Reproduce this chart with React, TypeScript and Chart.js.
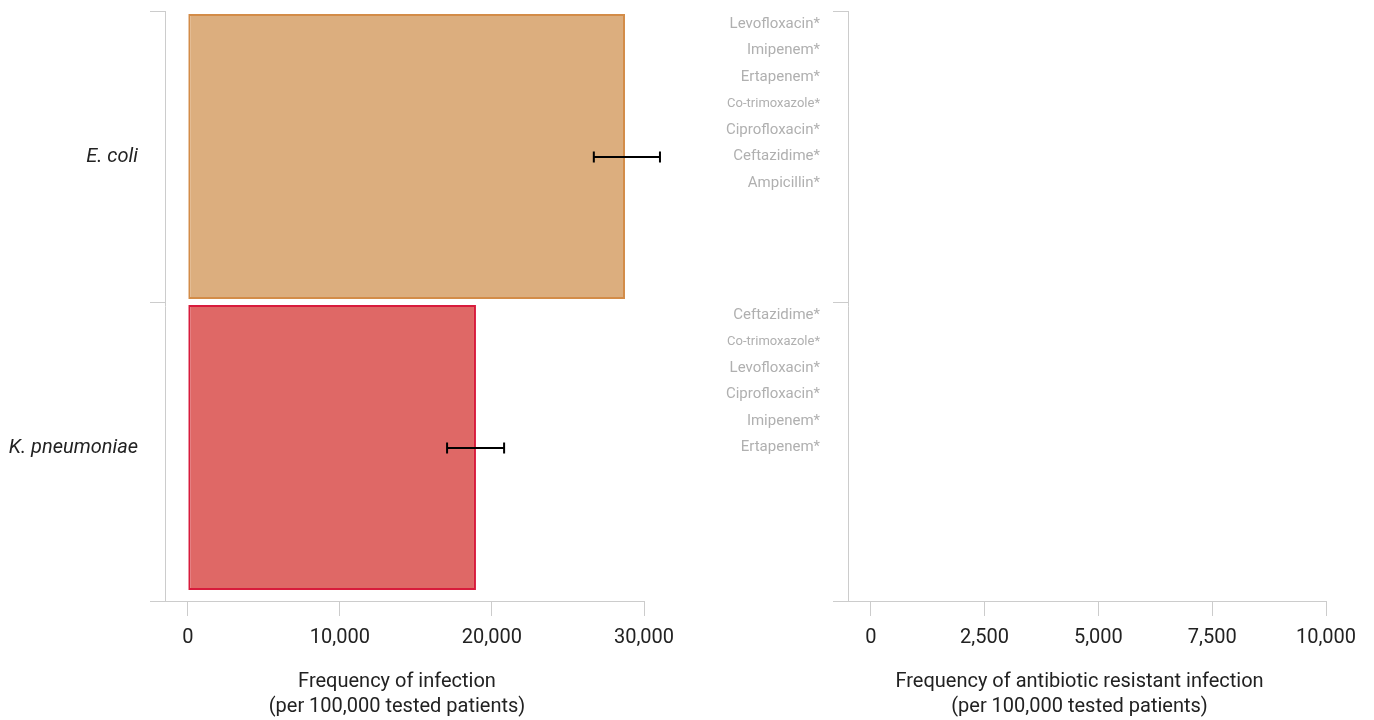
import React, { useEffect, useRef } from 'react';
import { Chart, registerables } from 'chart.js';

Chart.register(...registerables);

const FONT = 'Roboto';

// ---- Data ----
const organisms = ['E. coli', 'K. pneumoniae'];
const infectionFreq = [28750, 18950];
const infectionLow = [26700, 17050];
const infectionHigh = [31050, 20800];
const barFill = ['#DCAE7E', '#DF6866'];
const barBorder = ['#D38C48', '#D81B3C'];
const leftTicks = [0, 10000, 20000, 30000];
const rightTicks = [0, 2500, 5000, 7500, 10000];
const ecoliAntibiotics = [
  'Levofloxacin*',
  'Imipenem*',
  'Ertapenem*',
  'Co-trimoxazole*',
  'Ciprofloxacin*',
  'Ceftazidime*',
  'Ampicillin*',
];
const kpneuAntibiotics = [
  'Ceftazidime*',
  'Co-trimoxazole*',
  'Levofloxacin*',
  'Ciprofloxacin*',
  'Imipenem*',
  'Ertapenem*',
];
const condensedLabels = ['Co-trimoxazole*'];
const slotsPerGroup = 11;
const resistantFreq: (number | null)[] = [];
const leftTitle = ['Frequency of infection', '(per 100,000 tested patients)'];
const rightTitle = ['Frequency of antibiotic resistant infection', '(per 100,000 tested patients)'];

// fraction of the plot height used by the category bands (the x axis sits a little below them)
const BAND_FRACTION = 582 / 590;

const padGroup = (arr: string[]) => {
  const out = arr.slice();
  while (out.length < slotsPerGroup) out.push('');
  return out;
};
const antibioticLabels = [...padGroup(ecoliAntibiotics), ...padGroup(kpneuAntibiotics)];

const fmt = (v: any) => Number(v).toLocaleString('en-US');

const errorBarPlugin = {
  id: 'errorBars',
  afterDatasetsDraw(chart: any) {
    const { ctx, scales } = chart;
    const x = scales.x;
    const y = scales.y;
    ctx.save();
    ctx.strokeStyle = '#000000';
    ctx.lineWidth = 2;
    infectionLow.forEach((lo, i) => {
      const yc = Math.round(y.getPixelForValue(i));
      const x0 = x.getPixelForValue(lo);
      const x1 = x.getPixelForValue(infectionHigh[i]);
      ctx.beginPath();
      ctx.moveTo(x0, yc);
      ctx.lineTo(x1, yc);
      ctx.moveTo(x0, yc - 5.5);
      ctx.lineTo(x0, yc + 5.5);
      ctx.moveTo(x1, yc - 5.5);
      ctx.lineTo(x1, yc + 5.5);
      ctx.stroke();
    });
    ctx.restore();
  },
};

const axisTitlePlugin = {
  id: 'axisTitle',
  afterDraw(chart: any, _args: any, opts: any) {
    const { ctx, chartArea } = chart;
    const lines: string[] = opts.lines || [];
    const cx = (chartArea.left - 15 + chartArea.right) / 2;
    ctx.save();
    ctx.fillStyle = '#222222';
    ctx.font = `20px ${FONT}`;
    ctx.textAlign = 'center';
    ctx.textBaseline = 'middle';
    lines.forEach((t, i) => {
      ctx.fillText(t, cx, chartArea.bottom + 81 + i * 25);
    });
    // outer tick of the y axis at the corner, continuing the x axis line
    const yb = Math.round(chartArea.bottom) + 0.5;
    ctx.strokeStyle = '#cccccc';
    ctx.lineWidth = 1;
    ctx.beginPath();
    ctx.moveTo(chartArea.left - 15, yb);
    ctx.lineTo(chartArea.left, yb);
    ctx.stroke();
    ctx.restore();
  },
};

function makeXScale(min: number, max: number, ticks: number[]) {
  return {
    type: 'linear',
    min,
    max,
    afterBuildTicks: (ax: any) => {
      ax.ticks = ticks.map((v) => ({ value: v }));
    },
    afterFit: (ax: any) => {
      ax.height = 119;
      ax.paddingLeft = 0;
      ax.paddingRight = 0;
    },
    grid: { drawOnChartArea: false, drawTicks: true, tickLength: 15, color: '#cccccc', lineWidth: 1 },
    border: { display: true, color: '#cccccc', width: 1 },
    ticks: {
      padding: 10,
      color: '#222222',
      font: { family: FONT, size: 20 },
      maxRotation: 0,
      autoSkip: false,
      callback: fmt,
    },
    title: { display: false },
  };
}

function makeYScale(width: number, every: number, tickOpts: any) {
  return {
    type: 'category',
    afterBuildTicks: (ax: any) => {
      ax._valueRange = ax._valueRange / BAND_FRACTION;
    },
    afterFit: (ax: any) => {
      ax.width = width;
      ax.paddingTop = 0;
      ax.paddingBottom = 0;
    },
    grid: {
      offset: true,
      drawOnChartArea: false,
      drawTicks: true,
      tickLength: 15,
      color: (c: any) => (c.type === 'tick' && c.index % every === 0 ? '#cccccc' : 'rgba(0,0,0,0)'),
    },
    border: { display: true, color: '#cccccc', width: 1 },
    ticks: tickOpts,
  };
}

const LeftChart: React.FC = () => {
  const ref = useRef<HTMLCanvasElement>(null);
  useEffect(() => {
    if (!ref.current) return;
    const chart = new Chart(ref.current, {
      type: 'bar',
      data: {
        labels: organisms,
        datasets: [
          {
            data: infectionFreq,
            backgroundColor: barFill,
            borderColor: barBorder,
            borderWidth: 2,
            borderSkipped: false,
            barPercentage: 0.98,
            categoryPercentage: 1,
          },
        ],
      },
      options: {
        indexAxis: 'y',
        responsive: false,
        animation: false,
        layout: { padding: { left: 0, right: 46, top: 11, bottom: 0 } },
        plugins: {
          legend: { display: false },
          tooltip: { enabled: false },
          axisTitle: { lines: leftTitle },
        } as any,
        scales: {
          x: makeXScale(-1500, 30000, leftTicks) as any,
          y: makeYScale(165, 1, {
            padding: 12,
            color: '#222222',
            font: { family: FONT, size: 20, style: 'italic' },
          }) as any,
        },
      },
      plugins: [errorBarPlugin, axisTitlePlugin],
    });
    return () => chart.destroy();
  }, []);
  return <canvas ref={ref} width={690} height={720} style={{ display: 'block' }} />;
};

const RightChart: React.FC = () => {
  const ref = useRef<HTMLCanvasElement>(null);
  useEffect(() => {
    if (!ref.current) return;
    const chart = new Chart(ref.current, {
      type: 'bar',
      data: {
        labels: antibioticLabels,
        datasets: [
          {
            data: resistantFreq,
            backgroundColor: '#DCAE7E',
          },
        ],
      },
      options: {
        indexAxis: 'y',
        responsive: false,
        animation: false,
        layout: { padding: { left: 0, right: 48, top: 11, bottom: 0 } },
        plugins: {
          legend: { display: false },
          tooltip: { enabled: false },
          axisTitle: { lines: rightTitle },
        } as any,
        scales: {
          x: makeXScale(-500, 10000, rightTicks) as any,
          y: makeYScale(158, slotsPerGroup, {
            padding: 13,
            autoSkip: false,
            color: '#b0b0b0',
            font: (c: any) =>
              c.tick && condensedLabels.includes(c.tick.label)
                ? { family: FONT, size: 13 }
                : { family: FONT, size: 15 },
          }) as any,
        },
      },
      plugins: [axisTitlePlugin],
    });
    return () => chart.destroy();
  }, []);
  return <canvas ref={ref} width={684} height={720} style={{ display: 'block' }} />;
};

export default function App() {
  return (
    <div style={{ position: 'absolute', left: 0, top: 0, width: 1374, height: 720, background: '#ffffff' }}>
      <div style={{ position: 'absolute', left: 0, top: 0, width: 690, height: 720 }}>
        <LeftChart />
      </div>
      <div style={{ position: 'absolute', left: 690, top: 0, width: 684, height: 720 }}>
        <RightChart />
      </div>
    </div>
  );
}
